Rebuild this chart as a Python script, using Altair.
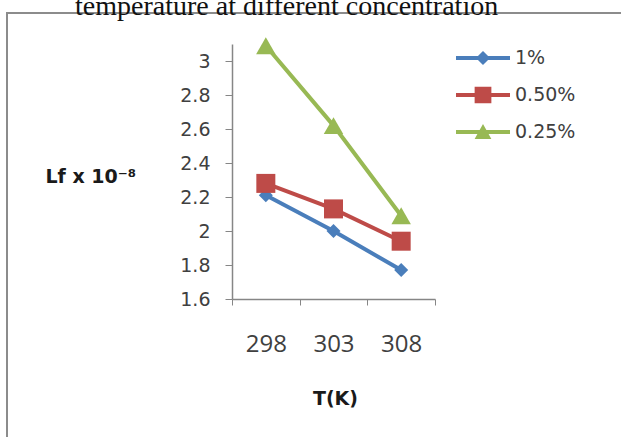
import altair as alt
import pandas as pd

# ---- data ----
temps = ["298", "303", "308"]
series = ["1%", "0.50%", "0.25%"]
lf_1 = [2.21, 2.00, 1.77]
lf_050 = [2.28, 2.13, 1.94]
lf_025 = [3.09, 2.62, 2.09]
y_ticks = [1.6, 1.8, 2.0, 2.2, 2.4, 2.6, 2.8, 3.0]
colors = ["#4A7EBB", "#BE4B48", "#98B954"]
marker_shapes = ["diamond", "square", "triangle-up"]
title_text = "temperature at different concentration"

rows = []
for s, vals in zip(series, [lf_1, lf_050, lf_025]):
    for t, v in zip(temps, vals):
        rows.append({"T": t, "series": s, "Lf": v})
df = pd.DataFrame(rows)

# legend symbols: line segment with marker on it
legend_paths = [
    "M-1,-0.074H-0.186L0,-0.26L0.186,-0.074H1V0.074H0.186L0,0.26L-0.186,0.074H-1Z",
    "M-1,-0.074H-0.31V-0.31H0.31V-0.074H1V0.074H0.31V0.31H-0.31V0.074H-1Z",
    "M-1,-0.074H-0.125L0,-0.3L0.125,-0.074H1V0.074H0.207L0.31,0.26H-0.31L-0.207,0.074H-1Z",
]

GRAY = "#868686"
TXT = "#404040"

x_enc = alt.X(
    "T:N",
    sort=temps,
    bandPosition=0.5,
    scale=alt.Scale(type="band", domain=temps, paddingInner=0, paddingOuter=0),
    axis=alt.Axis(
        title="T(K)",
        tickBand="extent",
        labelAngle=0,
        labelFont="Open Sans",
        labelFontSize=24,
        labelColor=TXT,
        labelPadding=27,
        tickSize=6,
        tickColor=GRAY,
        domainColor=GRAY,
        domainWidth=1.5,
        titleFont="DejaVu Sans",
        titleFontWeight="bold",
        titleFontSize=19,
        titleColor="#1a1a1a",
        titleX=103,
        titleY=105,
        titleBaseline="alphabetic",
        titleAlign="center",
        grid=False,
    ),
)
y_enc = alt.Y(
    "Lf:Q",
    scale=alt.Scale(domain=[1.6, 3.1], nice=False, zero=False),
    axis=alt.Axis(
        title="Lf x 10⁻⁸",
        values=y_ticks,
        format=".2~f",
        labelFont="DejaVu Sans",
        labelFontSize=19,
        labelColor=TXT,
        labelPadding=15,
        tickSize=7,
        tickColor=GRAY,
        domainColor=GRAY,
        domainWidth=1.5,
        grid=False,
        titleAngle=0,
        titleFont="DejaVu Sans",
        titleFontWeight="bold",
        titleFontSize=19,
        titleColor="#1a1a1a",
        titleX=-187,
        titleY=138,
        titleAlign="left",
        titleBaseline="alphabetic",
    ),
)

base = alt.Chart(df)

series_layers = []
point_sizes = [196, 361, 380]
for s, col, shp, sz in zip(series, colors, marker_shapes, point_sizes):
    sub = base.transform_filter(alt.datum.series == s)
    series_layers.append(
        sub.mark_line(strokeWidth=4, color=col).encode(x=x_enc, y=y_enc)
    )
for s, col, shp, sz in zip(series, colors, marker_shapes, point_sizes):
    sub = base.transform_filter(alt.datum.series == s)
    series_layers.append(
        sub.mark_point(shape=shp, filled=True, opacity=1, size=sz,
                       strokeWidth=0, color=col).encode(x=x_enc, y=y_enc)
    )

leg_props = dict(
    title=None,
    orient="none",
    legendX=224,
    legendY=-13,
    padding=0,
    labelFont="DejaVu Sans",
    labelFontSize=19,
    labelColor=TXT,
    labelOffset=5,
    symbolSize=2916,
    symbolStrokeWidth=0,
    symbolOpacity=1,
    rowPadding=-2,
)
legend_layer = base.mark_point(filled=True, opacity=0).encode(
    x=x_enc, y=y_enc,
    color=alt.Color("series:N", scale=alt.Scale(domain=series, range=colors),
                    legend=alt.Legend(**leg_props)),
    shape=alt.Shape("series:N", scale=alt.Scale(domain=series, range=legend_paths),
                    legend=alt.Legend(**leg_props)),
)

frame = alt.Chart(pd.DataFrame({"a": [0]})).mark_rect(
    fill=None, stroke="#8c8c8c", strokeWidth=2
).encode(
    x=alt.value(-225), x2=alt.value(700), y=alt.value(-31), y2=alt.value(700)
)

title = alt.Chart(pd.DataFrame({"t": [title_text]})).mark_text(
    font="Liberation Serif", fontSize=28, color="#111111",
    align="left", baseline="alphabetic",
).encode(text="t:N", x=alt.value(-157), y=alt.value(-29))

chart = alt.layer(
    frame, title, *series_layers, legend_layer
).properties(
    width=203,
    height=255,
    autosize=alt.AutoSizeParams(type="none"),
    padding={"left": 232, "top": 44, "right": 186, "bottom": 138},
    background="white",
).configure_view(strokeWidth=0)

chart.save("out.html", embed_options={"renderer": "svg", "actions": False})
